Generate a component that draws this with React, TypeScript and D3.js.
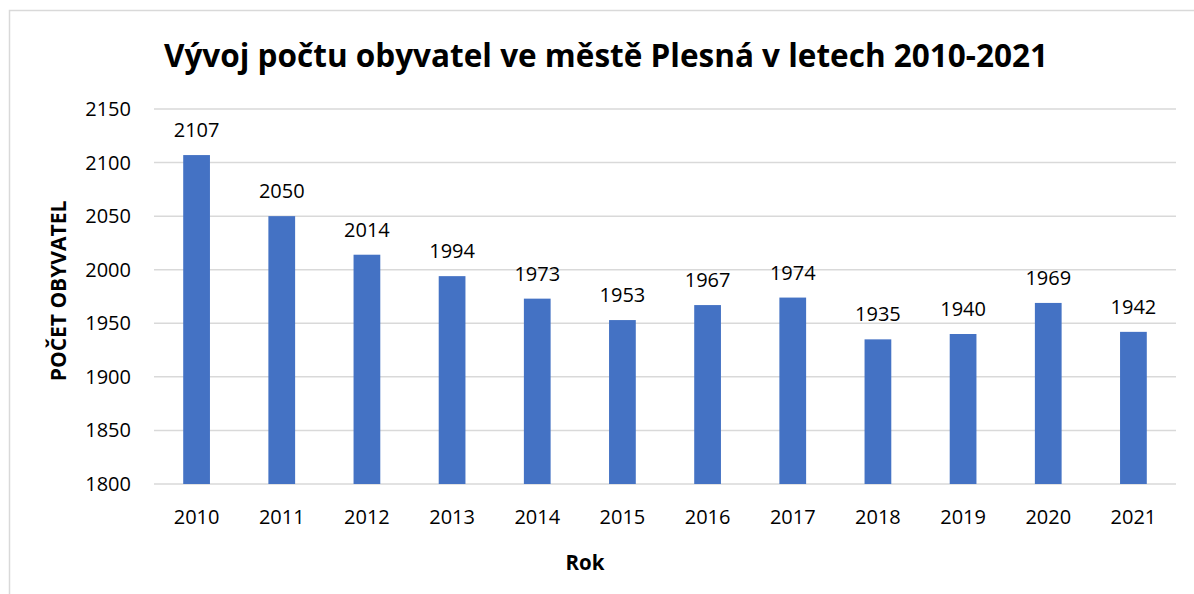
import React from "react";
import * as d3 from "d3";

const years = ["2010","2011","2012","2013","2014","2015","2016","2017","2018","2019","2020","2021"];
const population = [2107, 2050, 2014, 1994, 1973, 1953, 1967, 1974, 1935, 1940, 1969, 1942];
const yTicks = [1800, 1850, 1900, 1950, 2000, 2050, 2100, 2150];
const title = "Vývoj počtu obyvatel ve městě Plesná v letech 2010-2021";
const xTitle = "Rok";
const yTitle = "POČET OBYVATEL";

export default function App() {
  const W = 1194, H = 594;
  const left = 154, right = 1176, top = 109, bottom = 484;
  const x = d3.scaleBand<string>().domain(years).range([left, right]).paddingInner(0.686).paddingOuter(0.343);
  const y = d3.scaleLinear().domain([1800, 2150]).range([bottom, top]);
  const font = "'Open Sans', sans-serif";
  return (
    <svg width={W} height={H} style={{ position: "absolute", left: 0, top: 0, background: "#fff" }}>
      <rect x={9.5} y={10.5} width={W + 20} height={H + 20} fill="#fff" stroke="#d9d9d9" strokeWidth={1.5} />
      <text x={606} y={67} textAnchor="middle" fontFamily={font} fontWeight={700} fontSize={31.5} fill="#000">{title}</text>
      {yTicks.map(t => (
        <g key={t}>
          <line x1={left} x2={right} y1={y(t)} y2={y(t)} stroke="#d9d9d9" strokeWidth={1.5} />
          <text x={131} y={y(t) + 7} textAnchor="end" fontFamily={font} fontSize={20} fill="#000">{t}</text>
        </g>
      ))}
      {years.map((yr, i) => (
        <g key={yr}>
          <rect x={x(yr)} y={y(population[i])} width={x.bandwidth()} height={bottom - y(population[i])} fill="#4472C4" />
          <text x={x(yr)! + x.bandwidth() / 2} y={y(population[i]) - 18} textAnchor="middle" fontFamily={font} fontSize={20} fill="#000">{population[i]}</text>
          <text x={x(yr)! + x.bandwidth() / 2} y={524} textAnchor="middle" fontFamily={font} fontSize={20} fill="#000">{yr}</text>
        </g>
      ))}
      <text x={585} y={570} textAnchor="middle" fontFamily={font} fontWeight={700} fontSize={20.5} fill="#000">{xTitle}</text>
      <text transform={`translate(66,291) rotate(-90)`} textAnchor="middle" fontFamily={font} fontWeight={700} fontSize={21} fill="#000">{yTitle}</text>
    </svg>
  );
}
